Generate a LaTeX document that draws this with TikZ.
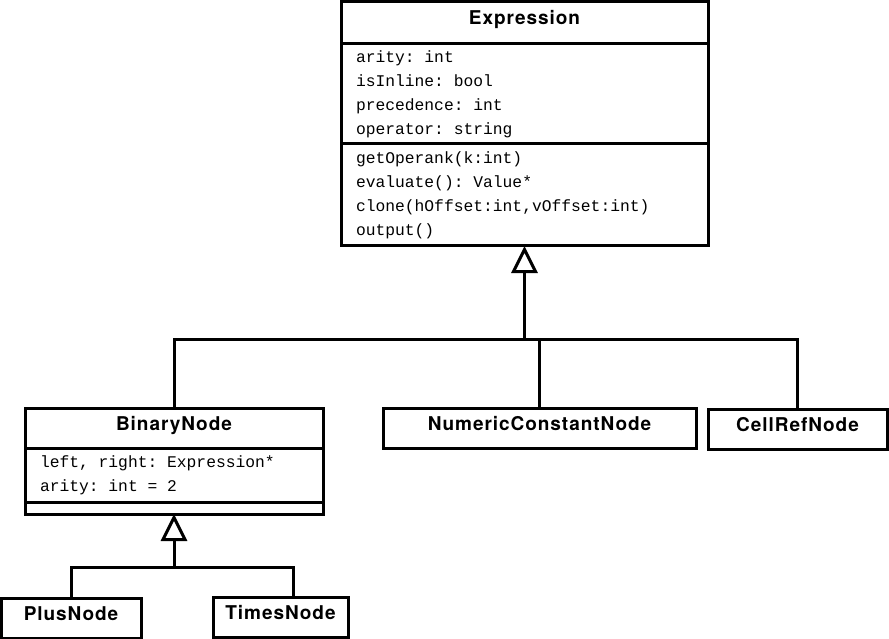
\documentclass[tikz,border=0pt]{standalone}
\usepackage{fontspec}
\setmonofont[WordSpace={1,0,0}]{Liberation Mono}
\newfontfamily\titlefont[LetterSpace=5]{TeX Gyre Heros}
\usetikzlibrary{arrows.meta,positioning}
\def\leaves{{(539.5,428)/num/313/NumericConstantNode}, {(797.5,429)/cellref/179/CellRefNode}, {(71,618)/plus/140/PlusNode}, {(280.5,617)/times/135/TimesNode}}
\tikzstyle{class name}=[draw, line width=3pt, outer sep=0pt, inner sep=0pt, minimum height=40pt, text height=13pt, text depth=9pt, font=\titlefont\bfseries\fontsize{19}{19}\selectfont]
\tikzstyle{members}=[draw, line width=3pt, outer sep=0pt, inner xsep=15pt, inner ysep=0pt, align=flush left, font=\ttfamily\fontsize{16.3}{24}\selectfont]
\tikzstyle{inherit}=[draw, line width=3pt, -]
\tikzstyle{inherit arrow}=[inherit, -{Triangle[open, length=27pt, width=26pt]}]

\begin{document}
\begin{tikzpicture}[x=1pt, y=-1pt]
  \useasboundingbox (0,0) rectangle (889,639);

  % The base class
  \node[class name, minimum width=367pt, minimum height=42pt] (expr) at (524.5,23) {Expression};
  \node[members, text width=337pt, minimum height=100pt, below=0pt of expr] (expr-attr)
    {arity: int\\isInline: bool\\precedence: int\\operator: string};
  \node[members, text width=337pt, minimum height=102pt, below=0pt of expr-attr] (expr-ops)
    {getOperank(k:int)\\evaluate(): Value*\\clone(hOffset:int,vOffset:int)\\output()};

  % The binary class
  \node[class name, minimum width=298pt] (binary) at (174,428) {BinaryNode};
  \node[members, text width=268pt, minimum height=54pt, below=0pt of binary] (binary-attr)
    {left, right: Expression*\\arity: int = 2};
  \node[members, text width=268pt, minimum height=12pt, below=0pt of binary-attr] (binary-ops) {};

  % The leaf classes
  \foreach \pos/\name/\w/\label in \leaves
    \node[class name, minimum width=\w pt] (\name) at \pos {\label};

  % The inheritance trees
  \coordinate (top-bus) at (524.5,339);
  \coordinate (bin-bus) at (174,567);
  \path[inherit arrow] (top-bus) -- (expr-ops);
  \path[inherit] (binary.north) |- (top-bus) -| (cellref.north);
  \path[inherit] (top-bus -| num.north) -- (num.north);
  \path[inherit arrow] (bin-bus) -- (binary-ops);
  \path[inherit] (plus.north) |- (bin-bus) -| ([xshift=13pt]times.north);
\end{tikzpicture}
\end{document}
